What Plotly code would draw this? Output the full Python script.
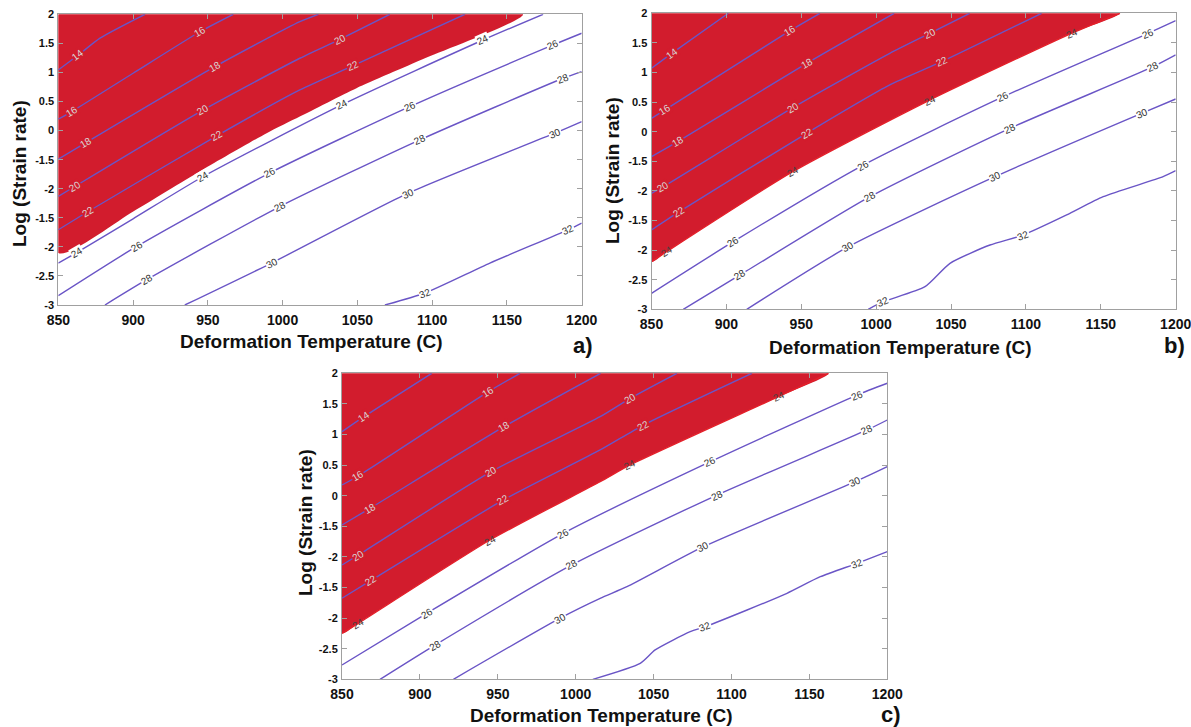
import math
import numpy as np
import plotly.graph_objects as go

# ---------------- data ----------------
LEVELS = [14, 16, 18, 20, 22, 24, 26, 28, 30, 32]
X_TICKS = [850, 900, 950, 1000, 1050, 1100, 1150, 1200]
Y_TICKVALS = [-3, -2.5, -2, -1.5, -1, -0.5, 0, 0.5, 1, 1.5, 2]
Y_TICKTEXT = ["-3", "-2.5", "-2", "-1.5", "-2", "-1.5", "0", "0.5", "1", "1.5", "2"]

# Panel a) contour lines, one list per level (temperature, log strain rate)
A_T = [
    [850, 863.4, 877.9, 908],
    [850, 859, 900, 944.7, 967],
    [850, 868.5, 954.7, 1011.5, 1024],
    [850, 861, 947, 1011.5, 1038.3, 1071.7],
    [850, 870, 955.9, 1011.5, 1047.2, 1121.9],
    [850, 862.3, 900, 946.9, 1039.4, 1134, 1174.2],
    [850, 902.4, 991.5, 1085, 1180.9, 1200],
    [881.2, 909.1, 998.2, 1091.8, 1187.6, 1200],
    [934.6, 992.6, 1084, 1182, 1200],
    [1068.4, 1095.1, 1138.6, 1190.9, 1200],
]
A_V = [
    [1.043, 1.30, 1.59, 2.0],
    [0.196, 0.327, 0.986, 1.70, 2.0],
    [-0.49, -0.206, 1.10, 1.873, 2.0],
    [-1.134, -0.962, 0.356, 1.244, 1.570, 2.0],
    [-1.706, -1.392, -0.091, 0.699, 1.117, 2.0],
    [-2.278, -2.101, -1.517, -0.790, 0.442, 1.558, 2.0],
    [-2.84, -1.993, -0.727, 0.412, 1.473, 1.674],
    [-3.0, -2.565, -1.306, -0.160, 0.900, 1.014],
    [-3.0, -2.278, -1.076, -0.045, 0.155],
    [-3.0, -2.794, -2.278, -1.706, -1.59],
]
A_RED_T = [850, 900.1, 944.7, 989.3, 1011.5, 1049.4, 1094, 1160.8]
A_RED_V = [-2.107, -1.391, -0.70, -0.045, 0.242, 0.73, 1.23, 2.0]
A_LBL_LEVEL = [14, 16, 16, 18, 18, 20, 20, 20, 22, 22, 22, 24, 24, 24, 24,
               26, 26, 26, 26, 28, 28, 28, 28, 30, 30, 30, 32, 32]
A_LBL_T = [863.4, 859, 944.7, 868.5, 954.7, 861, 947, 1038.3, 870, 955.9, 1047.2,
           862.3, 946.9, 1039.4, 1134, 902.4, 991.5, 1085, 1180.9,
           909.1, 998.2, 1091.8, 1187.6, 992.6, 1084, 1182, 1095.1, 1190.9]
A_LBL_V = [1.30, 0.327, 1.70, -0.206, 1.10, -0.962, 0.356, 1.570, -1.392, -0.091, 1.117,
           -2.101, -0.790, 0.442, 1.558, -1.993, -0.727, 0.412, 1.473,
           -2.565, -1.306, -0.160, 0.900, -2.278, -1.076, -0.045, -2.794, -1.706]

# Panel b)
B_T = [
    [850, 863.5, 901.3],
    [850, 859, 942.5, 962.5],
    [850, 867.5, 953.6, 1012],
    [850, 857.9, 944.7, 1009.1, 1035.8, 1062.5],
    [850, 868.6, 953.6, 1009.1, 1043.7, 1110.5],
    [850, 860.1, 944.3, 1035.8, 1130.5, 1162.8],
    [850, 904.6, 991.4, 1084.9, 1181.6, 1200],
    [871.2, 909.1, 995.9, 1089.3, 1185, 1200],
    [913.6, 981.4, 1079.3, 1177.2, 1200],
    [994.7, 1004.7, 1032.6, 1049.3, 1076, 1098.2, 1127.2, 1151.6, 1191.6, 1200],
]
B_V = [
    [1.071, 1.324, 2.0],
    [0.226, 0.367, 1.706, 2.0],
    [-0.422, -0.169, 1.155, 2.0],
    [-1.04, -0.929, 0.412, 1.324, 1.662, 2.0],
    [-1.66, -1.351, -0.027, 0.789, 1.182, 2.0],
    [-2.196, -2.027, -0.676, 0.535, 1.662, 2.0],
    [-2.73, -1.858, -0.563, 0.591, 1.662, 1.875],
    [-3.0, -2.42, -1.098, 0.057, 1.098, 1.296],
    [-3.0, -1.943, -0.760, 0.311, 0.552],
    [-3.0, -2.872, -2.618, -2.223, -1.914, -1.745, -1.407, -1.098, -0.76, -0.659],
]
B_RED_T = [850, 860.1, 944.3, 1035.8, 1130.5, 1162.8]
B_RED_V = [-2.196, -2.027, -0.676, 0.535, 1.662, 2.0]
B_LBL_LEVEL = [14, 16, 16, 18, 18, 20, 20, 20, 22, 22, 22, 24, 24, 24, 24,
               26, 26, 26, 26, 28, 28, 28, 28, 30, 30, 30, 32, 32]
B_LBL_T = [863.5, 859, 942.5, 867.5, 953.6, 857.9, 944.7, 1035.8, 868.6, 953.6, 1043.7,
           860.1, 944.3, 1035.8, 1130.5, 904.6, 991.4, 1084.9, 1181.6,
           909.1, 995.9, 1089.3, 1185, 981.4, 1079.3, 1177.2, 1004.7, 1098.2]
B_LBL_V = [1.324, 0.367, 1.706, -0.169, 1.155, -0.929, 0.412, 1.662, -1.351, -0.027, 1.182,
           -2.027, -0.676, 0.535, 1.662, -1.858, -0.563, 0.591, 1.662,
           -2.42, -1.098, 0.057, 1.098, -1.943, -0.760, 0.311, -2.872, -1.745]

# Panel c)
C_T = [
    [850, 864.1, 907.6],
    [850, 860.5, 944, 964.3],
    [850, 868, 954, 1016],
    [850, 860.5, 945.7, 1015.7, 1035, 1065],
    [850, 868.4, 953.6, 1015.7, 1043.5, 1113.1],
    [850, 860.5, 945, 1015.7, 1035, 1130.2, 1162.3],
    [850, 904.4, 992.1, 1086.4, 1180.6, 1200],
    [874.4, 909.7, 997.5, 1090.7, 1187, 1200],
    [921.5, 990, 1015.7, 1032.9, 1082, 1179.5, 1200],
    [1011, 1041.4, 1051, 1073.5, 1083.1, 1110, 1135.6, 1157, 1180.6, 1200],
]
C_V = [
    [1.046, 1.291, 2.0],
    [0.175, 0.322, 1.70, 2.0],
    [-0.479, -0.206, 1.128, 2.0],
    [-1.132, -0.969, 0.392, 1.291, 1.591, 2.0],
    [-1.676, -1.389, -0.070, 0.747, 1.155, 2.0],
    [-2.248, -2.085, -0.724, 0.229, 0.502, 1.618, 2.0],
    [-2.766, -1.922, -0.614, 0.556, 1.645, 1.837],
    [-3.0, -2.44, -1.132, 0.011, 1.074, 1.237],
    [-3.0, -2.0, -1.676, -1.487, -0.833, 0.229, 0.474],
    [-3.0, -2.739, -2.52, -2.222, -2.14, -1.868, -1.595, -1.324, -1.105, -0.915],
]
C_RED_T = [850, 860.5, 945, 1015.7, 1035, 1130.2, 1162.3]
C_RED_V = [-2.248, -2.085, -0.724, 0.229, 0.502, 1.618, 2.0]
C_LBL_LEVEL = [14, 16, 16, 18, 18, 20, 20, 20, 22, 22, 22, 24, 24, 24, 24,
               26, 26, 26, 26, 28, 28, 28, 28, 30, 30, 30, 32, 32]
C_LBL_T = [864.1, 860.5, 944, 868, 954, 860.5, 945.7, 1035, 868.4, 953.6, 1043.5,
           860.5, 945, 1035, 1130.2, 904.4, 992.1, 1086.4, 1180.6,
           909.7, 997.5, 1090.7, 1187, 990, 1082, 1179.5, 1083.1, 1180.6]
C_LBL_V = [1.291, 0.322, 1.70, -0.206, 1.128, -0.969, 0.392, 1.591, -1.389, -0.070, 1.155,
           -2.085, -0.724, 0.502, 1.618, -1.922, -0.614, 0.556, 1.645,
           -2.44, -1.132, 0.011, 1.074, -2.0, -0.833, 0.229, -2.14, -1.105]

# ---------------- styling / layout ----------------
W, H = 1191, 727
RED = "#d21c2d"
EDGE_RED = "#e4202a"
LINE = "#6a55c6"
AXIS = "#a0a0a0"
FONT = "Arial, 'Liberation Sans', sans-serif"

# pixel boxes of each plot area: (left, right, top, bottom)
BOXES = {
    "a": (58.3, 581.7, 14.3, 305.0),
    "b": (651.5, 1175.7, 13.3, 309.3),
    "c": (342.0, 887.3, 373.3, 679.3),
}

fig = go.Figure()
annotations = []

panels = [
    ("a", "x", "y", A_T, A_V, A_RED_T, A_RED_V, A_LBL_LEVEL, A_LBL_T, A_LBL_V, False),
    ("b", "x2", "y2", B_T, B_V, B_RED_T, B_RED_V, B_LBL_LEVEL, B_LBL_T, B_LBL_V, True),
    ("c", "x3", "y3", C_T, C_V, C_RED_T, C_RED_V, C_LBL_LEVEL, C_LBL_T, C_LBL_V, True),
]

for key, xa, ya, TT, VV, RT, RV, LL, LT, LV, edge24 in panels:
    l, r, t, b = BOXES[key]
    px_per_T = (r - l) / 350.0
    px_per_V = (b - t) / 5.0
    # red region: bounded by the top-left corner and the red edge
    fig.add_trace(go.Scatter(
        x=list(RT) + [850, 850], y=list(RV) + [2, RV[0]],
        fill="toself", fillcolor=RED, mode="lines",
        line=dict(width=0, color=RED, shape="spline", smoothing=0.6),
        xaxis=xa, yaxis=ya, hoverinfo="skip", showlegend=False))
    for lev, tt, vv in zip(LEVELS, TT, VV):
        col = EDGE_RED if (edge24 and lev == 24) else LINE
        fig.add_trace(go.Scatter(
            x=tt, y=vv, mode="lines",
            line=dict(color=col, width=1.4, shape="spline", smoothing=0.6),
            xaxis=xa, yaxis=ya, hoverinfo="skip", showlegend=False, cliponaxis=True))
    for lev, lt, lv in zip(LL, LT, LV):
        idx = LEVELS.index(lev)
        tt, vv = np.array(TT[idx], float), np.array(VV[idx], float)
        t0, t1 = max(lt - 6, tt[0]), min(lt + 6, tt[-1])
        dv = np.interp(t1, tt, vv) - np.interp(t0, tt, vv)
        ang = -math.degrees(math.atan2(dv * px_per_V, (t1 - t0) * px_per_T))
        inside = lev <= 22
        if inside:
            bg, fc = RED, "#d9d4d4"
        elif lev == 24 and edge24:
            bg, fc = "rgba(0,0,0,0)", "#4a4040"
        else:
            bg, fc = "white", "#333333"
        annotations.append(dict(
            x=lt, y=lv, xref=xa, yref=ya, text=str(lev), showarrow=False,
            textangle=ang, bgcolor=bg, borderpad=0,
            font=dict(family=FONT, size=10, color=fc)))

def dom_x(l, r):
    return [l / W, r / W]

def dom_y(t, b):
    return [1 - b / H, 1 - t / H]

axis_common = dict(
    showgrid=False, zeroline=False, showline=True, linecolor=AXIS, linewidth=1,
    mirror="ticks", ticks="inside", ticklen=5, tickcolor=AXIS, tickwidth=1,
    automargin=False,
)
layout_axes = {}
for i, key in enumerate(["a", "b", "c"]):
    l, r, t, b = BOXES[key]
    sfx = "" if i == 0 else str(i + 1)
    layout_axes["xaxis" + sfx] = dict(
        axis_common, domain=dom_x(l, r), range=[850, 1200], anchor="y" + sfx,
        tickvals=X_TICKS, ticktext=[str(v) for v in X_TICKS],
        tickfont=dict(family=FONT, size=14, color="#111", weight="bold"),
        ticklabelstandoff=2, ticklabeloverflow="allow")
    layout_axes["yaxis" + sfx] = dict(
        axis_common, domain=dom_y(t, b), range=[-3, 2], anchor="x" + sfx,
        tickvals=Y_TICKVALS, ticktext=Y_TICKTEXT,
        tickfont=dict(family=FONT, size=11, color="#111", weight="bold"),
        ticklabelstandoff=1, ticklabeloverflow="allow")

XTITLE = "Deformation Temperature (C)"
YTITLE = "Log (Strain rate)"
TITLE_POS = {
    "a": ((311.5, 341.7), (20, 174), (583, 345)),
    "b": ((900, 347), (612, 171), (1174, 345)),
    "c": ((601.7, 715), (305, 523), (891, 714)),
}
for key, (xt, yt, pl) in TITLE_POS.items():
    annotations.append(dict(x=xt[0] / W, y=1 - xt[1] / H, xref="paper", yref="paper",
                            text="<b>%s</b>" % XTITLE, showarrow=False,
                            xanchor="center", yanchor="middle",
                            font=dict(family=FONT, size=19, color="#111")))
    annotations.append(dict(x=yt[0] / W, y=1 - yt[1] / H, xref="paper", yref="paper",
                            text="<b>%s</b>" % YTITLE, showarrow=False, textangle=-90,
                            xanchor="center", yanchor="middle",
                            font=dict(family=FONT, size=19, color="#111")))
    annotations.append(dict(x=pl[0] / W, y=1 - pl[1] / H, xref="paper", yref="paper",
                            text="<b>%s)</b>" % key, showarrow=False,
                            xanchor="center", yanchor="middle",
                            font=dict(family=FONT, size=22, color="#111")))

fig.update_layout(
    width=W, height=H, margin=dict(l=0, r=0, t=0, b=0),
    paper_bgcolor="white", plot_bgcolor="white", showlegend=False,
    annotations=annotations, **layout_axes)

fig.write_html("out.html", config={"displayModeBar": False},
               post_script="document.body.style.margin='0px';document.body.style.overflow='hidden';")
